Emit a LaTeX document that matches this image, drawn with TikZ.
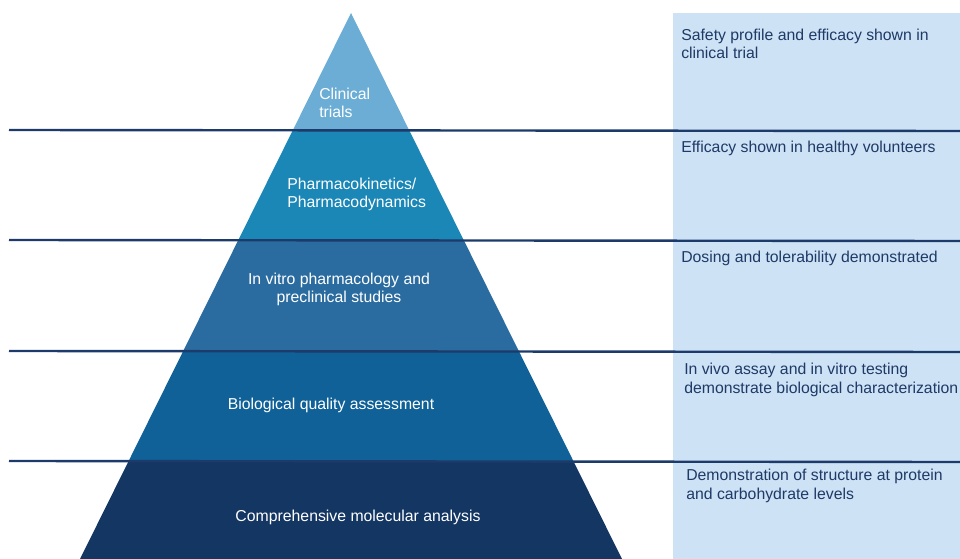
\documentclass[tikz,border=0pt]{standalone}
\usepackage{fontspec}
\setmainfont{Liberation Sans}
\definecolor{lvlA}{HTML}{6BADD5}
\definecolor{lvlB}{HTML}{1B87B7}
\definecolor{lvlC}{HTML}{2B6CA0}
\definecolor{lvlD}{HTML}{0F6197}
\definecolor{lvlE}{HTML}{143663}
\definecolor{panel}{HTML}{CDE2F5}
\definecolor{sepblue}{HTML}{1C3A6A}
\definecolor{noteblue}{HTML}{1F3A66}
\begin{document}
\begin{tikzpicture}[x=0.75pt,y=-0.75pt,
  sep/.style={draw=sepblue,line width=1.8pt},
  lvl/.style={text=white,inner sep=0pt,font=\fontsize{11.85}{14}\selectfont},
  note/.style={text=noteblue,inner sep=0pt,font=\fontsize{11.85}{14}\selectfont,align=left,anchor=base west}]
\useasboundingbox (0,0) rectangle (960,559);
\fill[panel] (673,13) rectangle (960,559);
\begin{scope}
\clip (351,13) -- (622,559) -- (80,559) -- cycle;
\foreach \ya/\yb/\c in {0/130/lvlA,130/241/lvlB,241/352/lvlC,352/461/lvlD,461/559/lvlE}
  \fill[\c] (0,\ya) rectangle (960,\yb);
\end{scope}
\coordinate (s1w) at (9,130);
\coordinate (s1e) at (960,131);
\coordinate (s2w) at (9,240);
\coordinate (s2e) at (960,241);
\coordinate (s3w) at (9,351);
\coordinate (s3e) at (960,352);
\coordinate (s4w) at (9,461);
\coordinate (s4e) at (960,462);
\path[sep] (s1w) -- (s1e);
\path[sep] (s2w) -- (s2e);
\path[sep] (s3w) -- (s3e);
\path[sep] (s4w) -- (s4e);
% base anchor of a two-line node sits on its last line
\node[lvl,align=left,anchor=base west] (clin) at (319,118) {Clinical\\trials};
\node[lvl,align=left,anchor=base west] (pkpd) at (287,208) {Pharmacokinetics/\\Pharmacodynamics};
\node[lvl,align=center,anchor=base] (vitro) at (339,303) {In vitro pharmacology and\\preclinical studies};
\node[lvl,anchor=base] (bio) at (331,410) {Biological quality assessment};
\node[lvl,anchor=base] (mol) at (358,521) {Comprehensive molecular analysis};
\node[note] (n1) at (681,59) {Safety profile and efficacy shown in\\clinical trial};
\node[note] (n2) at (681,153) {Efficacy shown in healthy volunteers};
\node[note] (n3) at (681,263) {Dosing and tolerability demonstrated};
\node[note] (n4) at (684,393) {In vivo assay and in vitro testing\\demonstrate biological characterization};
\node[note] (n5) at (686,499) {Demonstration of structure at protein\\and carbohydrate levels};
\end{tikzpicture}
\end{document}
